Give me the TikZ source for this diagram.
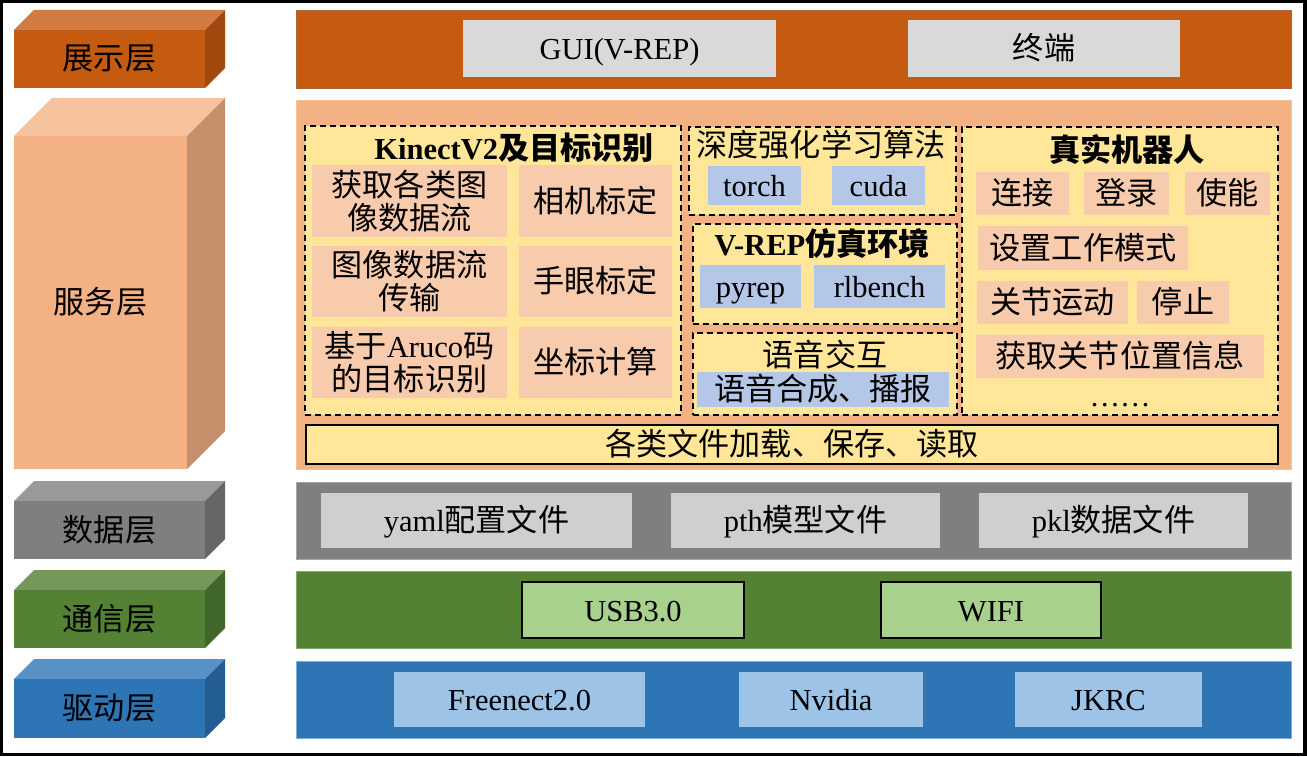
\documentclass[tikz,border=0pt]{standalone}
\usepackage{fontspec}
\setmainfont{Liberation Serif}
\newfontfamily\cjkfont[Scale=1.02]{Noto Sans CJK SC}
\newcommand\zh[1]{{\cjkfont #1}}
\usetikzlibrary{fit}
\definecolor{orD}{HTML}{C55A11}\definecolor{orDt}{HTML}{D07B42}\definecolor{orDs}{HTML}{A0480E}
\definecolor{orL}{HTML}{F4B183}\definecolor{orLt}{HTML}{F7C39F}\definecolor{orLs}{HTML}{C48F6A}
\definecolor{grD}{HTML}{7F7F7F}\definecolor{grDt}{HTML}{999999}\definecolor{grDs}{HTML}{666666}
\definecolor{gnD}{HTML}{548235}\definecolor{gnDt}{HTML}{76975A}\definecolor{gnDs}{HTML}{42672A}
\definecolor{blD}{HTML}{2E75B6}\definecolor{blDt}{HTML}{5891C5}\definecolor{blDs}{HTML}{245D91}
\definecolor{yel}{HTML}{FFE699}\definecolor{pink}{HTML}{F8CBAD}\definecolor{lblue}{HTML}{B4C7E7}
\definecolor{lgray}{HTML}{D9D9D9}\definecolor{dgray}{HTML}{D0CECE}\definecolor{lgreen}{HTML}{A9D18E}
\definecolor{sky}{HTML}{9DC3E6}
\begin{document}
\begin{tikzpicture}[x=1pt,y=-1pt,
  every node/.style={font=\fontsize{30.5}{33}\selectfont, text=black, inner sep=0pt, outer sep=0pt},
  panel/.style={rectangle, line width=0.8pt},
  item/.style={rectangle},
  grp/.style={rectangle, draw=black, dashed, dash pattern=on 6pt off 4pt, line width=1.6pt, fill=yel},
  txt/.style={align=center},
  one/.style={text height=27pt, text depth=5pt}]
\useasboundingbox (0,0) rectangle (1307,757);
\fill[white] (0,0) rectangle (1307,757);
\draw[line width=3.5pt] (1.5,1.5) rectangle (1305,754.5);
% box with centred one-line text: name, fill, extra, x0,y0,x1,y1, text
\newcommand\bx[8]{%
  \node[item, fill=#2, #3, fit={(#4,#5)(#6,#7)}] (#1) {};
  \node[one] (#1t) at (#1.center) {#8};}
% box with centred two-line text
\newcommand\bxx[8]{%
  \node[item, fill=#2, #3, fit={(#4,#5)(#6,#7)}] (#1) {};
  \node[txt] (#1t) at (#1.center) {#8};}
% ---- left 3D blocks: front x0..x1, y0..y1, depth d
\newcommand\blk[9]{% name, x0,y0,x1,y1,d, front,top,side
  \fill[#8] (#2,#3) -- ({#2+#6},{#3-#6}) -- ({#4+#6},{#3-#6}) -- (#4,#3) -- cycle;
  \fill[#9] (#4,#3) -- ({#4+#6},{#3-#6}) -- ({#4+#6},{#5-#6}) -- (#4,#5) -- cycle;
  \node[rectangle, fill=#7, fit={(#2,#3)(#4,#5)}] (#1) {};}
\blk{b1}{14}{30}{205}{88}{20}{orD}{orDt}{orDs}
\blk{b2}{14}{136}{187}{469}{38}{orL}{orLt}{orLs}
\blk{b3}{14}{501}{205}{559}{20}{grD}{grDt}{grDs}
\blk{b4}{14}{590}{205}{648}{20}{gnD}{gnDt}{gnDs}
\blk{b5}{14}{679}{205}{738}{20}{blD}{blDt}{blDs}
\node[one] (l1) at (b1.center) {\zh{展示层}};
\node[one] (l2) at (b2.center) {\zh{服务层}};
\node[one] (l3) at (b3.center) {\zh{数据层}};
\node[one] (l4) at (b4.center) {\zh{通信层}};
\node[one] (l5) at (b5.center) {\zh{驱动层}};
% ---- right panels
\node[panel, fill=orD, draw=orD!60!gray, fit={(296,10)(1291,88)}] (p1) {};
\node[panel, fill=orL, draw=orL!80!white, fit={(296,100)(1291,469)}] (p2) {};
\node[panel, fill=grD, draw=grD!70!white, fit={(296,482)(1291,559)}] (p3) {};
\node[panel, fill=gnD, draw=gnD!70!white, fit={(296,571)(1291,648)}] (p4) {};
\node[panel, fill=blD, draw=blD!60!white, fit={(296,661)(1291,738)}] (p5) {};
% presentation
\bx{gui}{lgray}{}{463}{20}{776}{77}{GUI(V-REP)}
\bx{term}{lgray}{}{908}{20}{1180}{77}{\zh{终端}}
% service: Kinect group
\node[grp, fit={(305,126)(681,415)}] (gk) {};
\node[one] (tk) at (514,149) {\textbf{KinectV2}\zh{\bfseries 及目标识别}};
\bxx{k1}{pink}{}{312}{165}{507}{237}{\zh{获取各类图}\\\zh{像数据流}}
\bx{k2}{pink}{}{519}{165}{672}{237}{\zh{相机标定}}
\bxx{k3}{pink}{}{312}{246}{507}{317}{\zh{图像数据流}\\\zh{传输}}
\bx{k4}{pink}{}{519}{246}{672}{317}{\zh{手眼标定}}
\bxx{k5}{pink}{}{312}{327}{507}{398}{\zh{基于}Aruco\zh{码}\\\zh{的目标识别}}
\bx{k6}{pink}{}{519}{327}{672}{398}{\zh{坐标计算}}
% DRL group
\node[grp, fit={(689,127)(956,215)}] (gd) {};
\node[one] (td) at (821,146) {\zh{深度强化学习算法}};
\bx{torch}{lblue}{}{708}{166}{801}{205}{torch}
\bx{cuda}{lblue}{}{832}{166}{925}{205}{cuda}
% V-REP group
\node[grp, fit={(693,224)(957,324)}] (gv) {};
\node[one] (tv) at (822,244) {\textbf{V-REP}\zh{\bfseries 仿真环境}};
\bx{pyrep}{lblue}{}{700}{265}{801}{308}{pyrep}
\bx{rlb}{lblue}{}{814}{265}{945}{308}{rlbench}
% voice group
\node[grp, fit={(693,333)(957,415)}] (gs) {};
\node[one] (ts) at (825,355) {\zh{语音交互}};
\bx{s1}{lblue}{}{697}{372}{949}{407}{\zh{语音合成、播报}}
% robot group
\node[grp, fit={(962,127)(1278,415)}] (gr) {};
\node[one] (tr) at (1127,151) {\zh{\bfseries 真实机器人}};
\bx{r1}{pink}{}{976}{172}{1069}{215}{\zh{连接}}
\bx{r2}{pink}{}{1084}{172}{1169}{215}{\zh{登录}}
\bx{r3}{pink}{}{1185}{172}{1270}{215}{\zh{使能}}
\bx{r4}{pink}{}{978}{226}{1188}{270}{\zh{设置工作模式}}
\bx{r5}{pink}{}{977}{281}{1128}{324}{\zh{关节运动}}
\bx{r6}{pink}{}{1137}{281}{1229}{324}{\zh{停止}}
\bx{r7}{pink}{}{976}{335}{1264}{378}{\zh{获取关节位置信息}}
\node[anchor=base] (r8) at (1120,406) {……};
% file bar
\bx{files}{yel}{draw=black, line width=1.6pt}{306}{425}{1278}{464}{\zh{各类文件加载、保存、读取}}
% data
\bx{d1}{dgray}{}{321}{493}{632}{548}{yaml\zh{配置文件}}
\bx{d2}{dgray}{}{671}{493}{940}{548}{pth\zh{模型文件}}
\bx{d3}{dgray}{}{979}{493}{1248}{548}{pkl\zh{数据文件}}
% comm
\bx{c1}{lgreen}{draw=black, line width=1.2pt}{522}{582}{744}{638}{USB3.0}
\bx{c2}{lgreen}{draw=black, line width=1.2pt}{881}{582}{1101}{638}{WIFI}
% drivers
\bx{v1}{sky}{}{394}{672}{645}{727}{Freenect2.0}
\bx{v2}{sky}{}{739}{672}{923}{727}{Nvidia}
\bx{v3}{sky}{}{1015}{672}{1202}{727}{JKRC}
\end{tikzpicture}
\end{document}
